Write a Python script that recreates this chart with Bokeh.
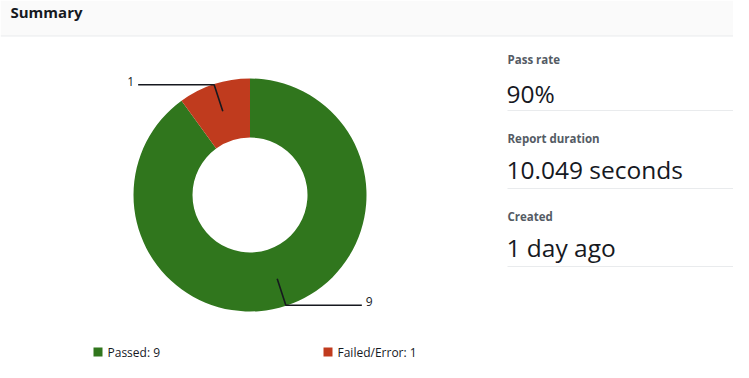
import math
from bokeh.plotting import figure
from bokeh.models import Range1d, ColumnDataSource
from bokeh.core.properties import value
from bokeh.embed import file_html
from bokeh.resources import INLINE

# ---- data ----
categories = ["Passed", "Failed/Error"]
counts = [9, 1]
colors = ["#30761d", "#c03b1e"]
metric_labels = ["Pass rate", "Report duration", "Created"]
metric_values = ["90%", "10.049 seconds", "1 day ago"]
title = "Summary"

FONT = "Open Sans"
W, H = 733, 362

p = figure(width=W, height=H, output_backend="svg", toolbar_location=None,
           x_range=Range1d(0, W), y_range=Range1d(0, H),
           min_border=0, border_fill_color="white", background_fill_color="white")
p.axis.visible = False
p.grid.visible = False
p.outline_line_color = None

def Y(py):  # pixel y (from top) -> data y
    return H - py

# header
p.quad(left=[0], right=[W], top=[Y(0)], bottom=[Y(35.5)], fill_color="#fafafa", line_color=None)
p.segment(x0=[0], y0=[Y(35.5)], x1=[W], y1=[Y(35.5)], line_color="#e9ebed", line_width=1)
p.text(x=[10], y=[Y(11)], text=[title], text_font=value(FONT), text_font_size="15px",
       text_font_style="bold", text_color="#16191f", text_baseline="middle", text_align="left")

# donut
cx, cy = 249.5, Y(194.5)
r_in, r_out = 57.5, 116.5
total = sum(counts)
starts, ends, mids = [], [], []
cum = 0
for c in counts:
    a0 = math.pi / 2 - 2 * math.pi * cum / total
    cum += c
    a1 = math.pi / 2 - 2 * math.pi * cum / total
    starts.append(a0); ends.append(a1); mids.append((a0 + a1) / 2)

src = ColumnDataSource(dict(start=starts, end=ends, color=colors))
p.annular_wedge(x=cx, y=cy, inner_radius=r_in, outer_radius=r_out,
                start_angle="start", end_angle="end", direction="clock",
                fill_color="color", line_color=None, source=src)

# leader lines and labels
for cnt, m in zip(counts, mids):
    rm = (r_in + r_out) / 2 + 1
    x0, y0 = cx + rm * math.cos(m), cy + rm * math.sin(m)
    x1, y1 = cx + (r_out - 0.5) * math.cos(m), cy + (r_out - 0.5) * math.sin(m)
    sgn = 1 if math.cos(m) > 0 else -1
    x2 = x1 + sgn * 76
    p.line(x=[x0, x1, x2], y=[y0, y1, y1], line_color="#16191f", line_width=1.6)
    p.text(x=[x2 + sgn * 4], y=[y1 + 3.5], text=[str(cnt)], text_font=value(FONT),
           text_font_size="12px", text_color="#16191f", text_baseline="middle",
           text_align="left" if sgn > 0 else "right")

# legend
leg_x = [97.5, 327.5]
for lx, cat, cnt, col in zip(leg_x, categories, counts, colors):
    p.rect(x=[lx], y=[Y(351.5)], width=9, height=9, fill_color=col, line_color=None)
    p.text(x=[lx + 9.5], y=[Y(351.5)], text=[f"{cat}: {cnt}"], text_font=value(FONT),
           text_font_size="12px", text_color="#16191f", text_baseline="middle", text_align="left")

# key-value panel
label_mid = [58.5, 137.5, 215.5]
value_mid = [92.5, 168.5, 246.5]
sep_y = [110, 188, 266]
for lab, val, lm, vm, sy in zip(metric_labels, metric_values, label_mid, value_mid, sep_y):
    p.text(x=[507], y=[Y(lm)], text=[lab], text_font=value(FONT), text_font_size="11.5px",
           text_font_style="bold", text_color="#545b64", text_baseline="middle", text_align="left")
    p.text(x=[506], y=[Y(vm)], text=[val], text_font=value(FONT), text_font_size="24.5px",
           text_color="#16191f", text_baseline="middle", text_align="left")
    p.segment(x0=[507], y0=[Y(sy)], x1=[W], y1=[Y(sy)], line_color="#e9ebed", line_width=1)

open("out.html", "w").write(file_html(p, INLINE))
